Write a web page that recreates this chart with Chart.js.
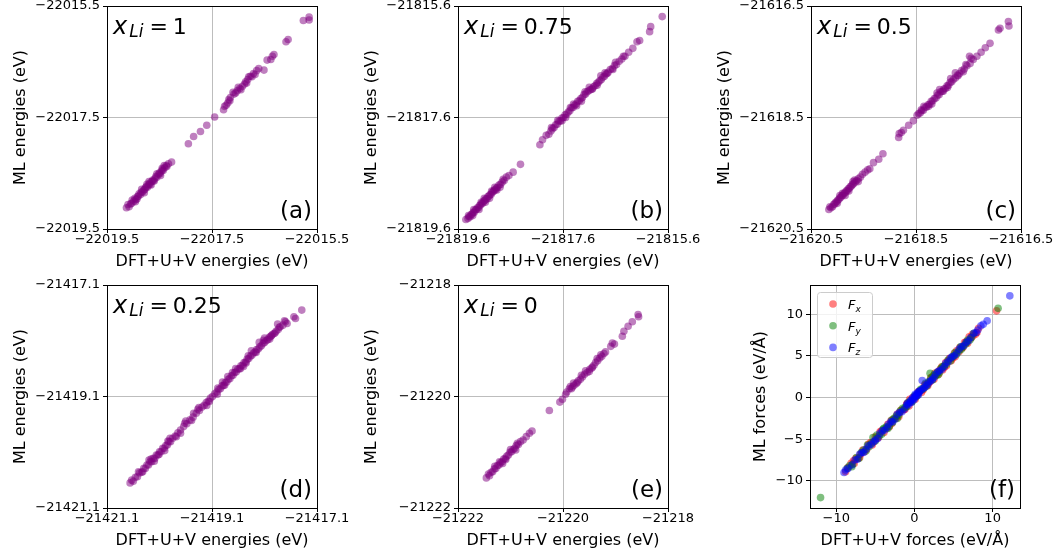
<!DOCTYPE html>
<html>
<head>
<meta charset="utf-8">
<script src="https://cdn.jsdelivr.net/npm/chart.js@4"></script>
<style>
  html, body { margin: 0; padding: 0; background: #fff; }
  body { width: 1057px; height: 552px; position: relative; overflow: hidden; }
  canvas { position: absolute; }
</style>
</head>
<body>
<script>
// ML vs DFT+U+V energies, [dft, ml] pairs in eV
const energyA = [
  [-22019.13,-22019.12],[-22019.08,-22019.10],[-22019.05,-22019.05],[-22019.03,-22019.04],[-22018.99,-22019.00],[-22018.97,-22018.95],
  [-22018.95,-22018.97],[-22018.92,-22018.92],[-22018.90,-22018.91],[-22018.89,-22018.87],[-22018.86,-22018.88],[-22018.85,-22018.84],
  [-22018.82,-22018.83],[-22018.80,-22018.80],[-22018.78,-22018.79],[-22018.77,-22018.76],[-22018.75,-22018.74],[-22018.73,-22018.75],
  [-22018.71,-22018.71],[-22018.69,-22018.68],[-22018.68,-22018.70],[-22018.65,-22018.65],[-22018.63,-22018.62],[-22018.62,-22018.64],
  [-22018.59,-22018.60],[-22018.57,-22018.56],[-22018.55,-22018.57],[-22018.52,-22018.52],[-22018.50,-22018.49],[-22018.49,-22018.51],
  [-22018.46,-22018.46],[-22018.44,-22018.43],[-22018.43,-22018.45],[-22018.40,-22018.40],[-22018.37,-22018.36],[-22018.36,-22018.38],
  [-22018.33,-22018.33],[-22018.27,-22018.30],
  [-22019.02,-22018.98],[-22018.96,-22019.01],[-22018.84,-22018.79],[-22018.79,-22018.85],[-22018.70,-22018.65],[-22018.66,-22018.71],
  [-22018.55,-22018.51],[-22018.48,-22018.54],[-22018.41,-22018.36],
  [-22019.10,-22019.06],[-22018.93,-22018.96],[-22018.74,-22018.70],[-22018.60,-22018.64],[-22018.45,-22018.41],
  [-22017.95,-22017.97],[-22017.85,-22017.84],[-22017.72,-22017.75],[-22017.60,-22017.64],[-22017.45,-22017.49],
  [-22017.28,-22017.36],[-22017.26,-22017.30],[-22017.23,-22017.28],[-22017.18,-22017.18],[-22017.15,-22017.14],[-22017.08,-22017.08],
  [-22017.05,-22017.06],[-22017.02,-22017.02],[-22016.97,-22016.98],[-22016.92,-22016.94],[-22016.88,-22016.90],[-22016.86,-22016.86],
  [-22016.82,-22016.82],[-22016.77,-22016.76],[-22016.74,-22016.77],[-22016.71,-22016.71],[-22016.65,-22016.66],[-22016.61,-22016.62],
  [-22016.51,-22016.65],[-22016.45,-22016.47],[-22016.38,-22016.46],[-22016.35,-22016.40],[-22016.32,-22016.37],[-22016.09,-22016.14],
  [-22016.05,-22016.10],[-22015.76,-22015.76],[-22015.65,-22015.70],[-22015.65,-22015.75],
  [-22017.20,-22017.24],[-22017.10,-22017.05],[-22016.95,-22017.00],[-22016.80,-22016.77],[-22016.68,-22016.73],
  [-22017.16,-22017.20],[-22017.00,-22016.96],[-22016.84,-22016.88]
];
const energyB = [
  [-21819.45,-21819.43],[-21819.41,-21819.41],[-21819.39,-21819.38],[-21819.37,-21819.38],[-21819.35,-21819.34],[-21819.33,-21819.33],
  [-21819.31,-21819.30],[-21819.29,-21819.30],[-21819.27,-21819.26],[-21819.25,-21819.25],[-21819.23,-21819.22],[-21819.21,-21819.22],
  [-21819.19,-21819.18],[-21819.17,-21819.17],[-21819.15,-21819.14],[-21819.13,-21819.14],[-21819.11,-21819.10],[-21819.09,-21819.09],
  [-21819.07,-21819.06],[-21819.05,-21819.06],[-21819.03,-21819.02],[-21819.01,-21819.01],[-21818.99,-21818.98],[-21818.97,-21818.98],
  [-21818.95,-21818.94],[-21818.93,-21818.93],[-21818.91,-21818.90],[-21818.89,-21818.90],[-21818.87,-21818.87],[-21818.85,-21818.85],
  [-21818.82,-21818.81],[-21818.79,-21818.80],[-21818.76,-21818.76],[-21818.72,-21818.73],[-21818.68,-21818.67],[-21818.63,-21818.64],
  [-21818.55,-21818.58],[-21818.41,-21818.44],
  [-21819.30,-21819.25],[-21819.20,-21819.25],[-21819.10,-21819.05],[-21819.00,-21819.05],[-21818.90,-21818.85],[-21818.80,-21818.85],
  [-21819.40,-21819.36],[-21819.32,-21819.36],[-21819.16,-21819.12],[-21819.08,-21819.12],[-21818.96,-21818.92],[-21818.86,-21818.90],
  [-21818.74,-21818.71],
  [-21818.04,-21818.09],[-21817.99,-21818.00],[-21817.92,-21817.92],[-21817.87,-21817.90],[-21817.83,-21817.84],
  [-21817.80,-21817.80],[-21817.77,-21817.78],[-21817.74,-21817.73],[-21817.71,-21817.72],[-21817.68,-21817.67],[-21817.65,-21817.66],
  [-21817.62,-21817.61],[-21817.59,-21817.60],[-21817.56,-21817.55],[-21817.53,-21817.54],[-21817.50,-21817.50],[-21817.47,-21817.48],
  [-21817.44,-21817.43],[-21817.41,-21817.42],[-21817.38,-21817.38],[-21817.35,-21817.36],[-21817.32,-21817.31],[-21817.29,-21817.30],
  [-21817.26,-21817.26],[-21817.23,-21817.24],[-21817.20,-21817.19],[-21817.17,-21817.18],[-21817.14,-21817.14],[-21817.11,-21817.12],
  [-21817.08,-21817.10],[-21817.05,-21817.09],[-21817.02,-21817.05],[-21816.99,-21817.03],[-21816.96,-21816.99],[-21816.93,-21816.97],
  [-21816.90,-21816.94],[-21816.87,-21816.92],[-21816.84,-21816.88],[-21816.81,-21816.86],[-21816.78,-21816.82],[-21816.74,-21816.79],
  [-21816.70,-21816.74],[-21816.66,-21816.72],[-21816.62,-21816.67],[-21816.58,-21816.65],[-21816.53,-21816.59],[-21816.48,-21816.55],
  [-21816.42,-21816.50],[-21816.35,-21816.43],[-21816.27,-21816.36],[-21816.19,-21816.24],[-21816.14,-21816.22],[-21815.95,-21816.06],
  [-21815.93,-21815.97],[-21815.71,-21815.79],
  [-21817.70,-21817.65],[-21817.55,-21817.60],[-21817.40,-21817.36],[-21817.25,-21817.31],[-21817.10,-21817.06],[-21816.95,-21817.02],
  [-21816.80,-21816.80],[-21816.65,-21816.74],
  [-21817.82,-21817.78],[-21817.62,-21817.66],[-21817.46,-21817.42],[-21817.34,-21817.39],[-21817.18,-21817.14],[-21817.04,-21817.09],
  [-21816.88,-21816.85],[-21816.76,-21816.81],[-21816.60,-21816.61],[-21816.45,-21816.50]
];
const energyC = [
  [-21620.16,-21620.15],[-21620.12,-21620.12],[-21620.09,-21620.10],[-21620.07,-21620.06],[-21620.05,-21620.05],[-21620.03,-21620.02],
  [-21620.01,-21620.01],[-21619.99,-21619.98],[-21619.97,-21619.97],[-21619.95,-21619.94],[-21619.93,-21619.93],[-21619.91,-21619.90],
  [-21619.89,-21619.89],[-21619.87,-21619.86],[-21619.85,-21619.85],[-21619.83,-21619.82],[-21619.81,-21619.81],[-21619.79,-21619.78],
  [-21619.77,-21619.77],[-21619.75,-21619.74],[-21619.73,-21619.73],[-21619.71,-21619.70],[-21619.69,-21619.69],[-21619.66,-21619.66],
  [-21619.63,-21619.63],[-21619.60,-21619.60],[-21619.56,-21619.57],[-21619.52,-21619.52],[-21619.47,-21619.48],[-21619.42,-21619.44],
  [-21619.38,-21619.42],[-21619.31,-21619.31],[-21619.21,-21619.25],[-21619.13,-21619.15],
  [-21619.95,-21619.90],[-21619.85,-21619.90],[-21619.70,-21619.65],[-21619.60,-21619.65],
  [-21620.14,-21620.10],[-21620.00,-21620.04],[-21619.90,-21619.86],[-21619.78,-21619.82],[-21619.67,-21619.62],
  [-21618.83,-21618.86],[-21618.82,-21618.79],[-21618.78,-21618.77],[-21618.74,-21618.73],[-21618.64,-21618.64],[-21618.55,-21618.56],
  [-21618.48,-21618.46],[-21618.45,-21618.43],[-21618.42,-21618.42],[-21618.39,-21618.38],[-21618.36,-21618.37],[-21618.33,-21618.32],
  [-21618.30,-21618.31],[-21618.27,-21618.27],[-21618.24,-21618.26],[-21618.21,-21618.21],[-21618.18,-21618.20],[-21618.15,-21618.16],
  [-21618.12,-21618.15],[-21618.09,-21618.10],[-21618.06,-21618.09],[-21618.03,-21618.04],[-21618.00,-21618.03],[-21617.97,-21617.99],
  [-21617.94,-21617.98],[-21617.91,-21617.93],[-21617.88,-21617.92],[-21617.85,-21617.87],[-21617.82,-21617.86],[-21617.79,-21617.82],
  [-21617.75,-21617.79],[-21617.71,-21617.74],[-21617.67,-21617.71],[-21617.63,-21617.66],[-21617.58,-21617.63],[-21617.53,-21617.57],
  [-21617.48,-21617.40],[-21617.47,-21617.53],[-21617.41,-21617.46],[-21617.34,-21617.40],[-21617.26,-21617.33],[-21617.18,-21617.25],
  [-21617.09,-21617.17],[-21616.93,-21616.93],[-21616.90,-21616.90],[-21616.74,-21616.78],[-21616.73,-21616.86],
  [-21618.35,-21618.30],[-21618.20,-21618.26],[-21618.05,-21618.00],[-21617.90,-21617.96],[-21617.75,-21617.70],[-21617.60,-21617.68],
  [-21617.45,-21617.44],
  [-21618.40,-21618.36],[-21618.26,-21618.30],[-21618.10,-21618.06],[-21617.98,-21618.03],[-21617.84,-21617.80],[-21617.70,-21617.75],
  [-21617.55,-21617.55]
];
const energyD = [
  [-21420.66,-21420.65],[-21420.60,-21420.62],[-21420.56,-21420.55],[-21420.52,-21420.54],[-21420.48,-21420.47],[-21420.44,-21420.46],
  [-21420.40,-21420.39],[-21420.37,-21420.39],[-21420.34,-21420.33],[-21420.31,-21420.33],[-21420.28,-21420.27],[-21420.25,-21420.27],
  [-21420.22,-21420.21],[-21420.19,-21420.21],[-21420.16,-21420.15],[-21420.13,-21420.15],[-21420.10,-21420.09],[-21420.07,-21420.09],
  [-21420.04,-21420.03],[-21420.01,-21420.03],[-21419.98,-21419.98],[-21419.95,-21419.97],[-21419.92,-21419.91],[-21419.89,-21419.91],
  [-21419.85,-21419.85],[-21419.80,-21419.81],[-21419.75,-21419.75],[-21419.70,-21419.70],[-21419.64,-21419.64],[-21419.58,-21419.59],
  [-21419.52,-21419.52],[-21419.46,-21419.47],[-21419.40,-21419.40],[-21419.34,-21419.35],[-21419.29,-21419.29],[-21419.25,-21419.26],
  [-21419.21,-21419.21],[-21419.17,-21419.18],[-21419.13,-21419.13],[-21419.09,-21419.10],[-21419.05,-21419.05],[-21419.01,-21419.02],
  [-21418.97,-21418.97],[-21418.94,-21418.96],[-21418.91,-21418.91],[-21418.88,-21418.90],[-21418.85,-21418.85],[-21418.82,-21418.84],
  [-21418.79,-21418.79],[-21418.76,-21418.78],[-21418.73,-21418.73],[-21418.70,-21418.72],[-21418.67,-21418.67],[-21418.64,-21418.66],
  [-21418.61,-21418.61],[-21418.58,-21418.60],[-21418.55,-21418.55],[-21418.52,-21418.54],[-21418.49,-21418.49],[-21418.46,-21418.48],
  [-21418.43,-21418.43],[-21418.40,-21418.42],[-21418.37,-21418.38],[-21418.34,-21418.36],[-21418.31,-21418.32],[-21418.28,-21418.30],
  [-21418.25,-21418.26],[-21418.22,-21418.25],[-21418.19,-21418.21],[-21418.16,-21418.19],[-21418.13,-21418.15],[-21418.10,-21418.13],
  [-21418.07,-21418.10],[-21418.04,-21418.08],[-21418.01,-21418.04],[-21417.98,-21418.02],[-21417.95,-21417.99],[-21417.92,-21417.97],
  [-21417.88,-21417.93],[-21417.84,-21417.90],[-21417.80,-21417.85],[-21417.75,-21417.82],[-21417.67,-21417.79],[-21417.54,-21417.67],
  [-21417.51,-21417.70],[-21417.39,-21417.55],
  [-21420.30,-21420.24],[-21420.00,-21420.07],[-21419.60,-21419.54],[-21419.45,-21419.40],[-21419.20,-21419.26],[-21418.80,-21418.74],
  [-21418.50,-21418.56],[-21418.35,-21418.28],[-21418.20,-21418.13],[-21417.90,-21417.96],
  [-21420.50,-21420.45],[-21420.20,-21420.26],[-21419.90,-21419.85],[-21419.70,-21419.76],[-21419.35,-21419.30],[-21419.00,-21419.06],
  [-21418.90,-21418.84],[-21418.65,-21418.60],[-21418.45,-21418.50],[-21418.10,-21418.05],[-21418.00,-21418.07],[-21417.85,-21417.80],
  [-21417.70,-21417.76],
  [-21420.63,-21420.60],[-21420.42,-21420.45],[-21420.26,-21420.22],[-21420.11,-21420.14],[-21419.94,-21419.90],[-21419.78,-21419.82],
  [-21419.62,-21419.58],[-21419.49,-21419.53],[-21419.37,-21419.33],[-21419.15,-21419.19],[-21418.99,-21418.95],[-21418.86,-21418.90],
  [-21418.71,-21418.67],[-21418.56,-21418.60],[-21418.41,-21418.37],[-21418.26,-21418.31],[-21418.12,-21418.09],[-21417.97,-21418.01],
  [-21417.82,-21417.86],[-21417.72,-21417.74]
];
const energyE = [
  [-21221.46,-21221.46],[-21221.40,-21221.42],[-21221.37,-21221.36],[-21221.34,-21221.35],[-21221.31,-21221.30],[-21221.28,-21221.29],
  [-21221.25,-21221.24],[-21221.22,-21221.23],[-21221.19,-21221.19],[-21221.16,-21221.17],[-21221.13,-21221.12],[-21221.10,-21221.11],
  [-21221.07,-21221.07],[-21221.04,-21221.05],[-21221.01,-21221.00],[-21220.98,-21220.99],[-21220.95,-21220.95],[-21220.92,-21220.93],
  [-21220.89,-21220.88],[-21220.85,-21220.86],[-21220.81,-21220.81],[-21220.76,-21220.78],[-21220.70,-21220.72],[-21220.64,-21220.66],
  [-21220.59,-21220.62],
  [-21221.30,-21221.25],[-21221.15,-21221.20],[-21221.00,-21220.95],[-21220.90,-21220.96],
  [-21221.42,-21221.39],[-21221.21,-21221.17],[-21221.09,-21221.13],[-21220.87,-21220.84],
  [-21220.26,-21220.25],[-21220.06,-21220.10],[-21220.01,-21220.05],[-21219.95,-21219.96],[-21219.93,-21219.92],
  [-21219.88,-21219.86],[-21219.84,-21219.86],[-21219.82,-21219.83],[-21219.79,-21219.80],[-21219.75,-21219.77],[-21219.71,-21219.72],
  [-21219.67,-21219.69],[-21219.63,-21219.65],[-21219.59,-21219.60],[-21219.54,-21219.57],[-21219.49,-21219.51],[-21219.44,-21219.47],
  [-21219.41,-21219.44],[-21219.38,-21219.39],[-21219.34,-21219.36],[-21219.30,-21219.31],[-21219.26,-21219.28],[-21219.22,-21219.23],
  [-21219.19,-21219.20],[-21219.09,-21219.10],[-21219.06,-21219.04],[-21219.02,-21219.06],[-21218.87,-21218.92],[-21218.84,-21218.83],
  [-21218.76,-21218.74],[-21218.68,-21218.66],[-21218.57,-21218.53],[-21218.56,-21218.57],
  [-21219.80,-21219.76],[-21219.65,-21219.62],[-21219.50,-21219.55],[-21219.35,-21219.32],
  [-21219.86,-21219.82],[-21219.73,-21219.75],[-21219.57,-21219.54],[-21219.45,-21219.49],[-21219.28,-21219.25]
];

// force components, [dft, ml] pairs in eV/Å
const forceX = [
  [-8.5,-8.4],[-7.8,-7.6],[-7.5,-7.3],[-7.2,-7.3],[-6.9,-6.8],[-6.4,-6.5],[-5.6,-5.4],[-5.2,-5.3],[-4.8,-4.9],[-4.2,-4.0],
  [-3.6,-3.7],[-3.0,-2.8],[-2.7,-2.6],[-2.4,-2.5],[-1.9,-1.8],[-1.4,-1.5],[-0.9,-0.7],[-0.6,-0.2],[-0.4,-0.5],[0.0,0.1],
  [0.3,0.2],[0.7,0.8],[1.1,0.9],[1.5,1.6],[1.8,1.7],[2.0,1.9],[2.3,2.5],[2.8,2.7],[3.0,3.1],[3.3,3.4],[3.8,3.6],[4.3,4.4],
  [4.9,4.7],[5.4,5.6],[5.7,5.5],[6.0,5.9],[6.6,6.7],[7.2,7.1],[7.5,7.4],[7.8,7.6],[8.2,8.3],[10.5,10.4],
  [-8.8,-8.9],[-8.1,-7.9],[-7.7,-7.9],[-7.0,-7.2],[-6.6,-6.3],[-6.1,-6.2],[-5.9,-5.6],[-5.4,-5.7],[-5.0,-4.7],[-4.6,-4.8],
  [-4.4,-4.1],[-3.9,-4.2],[-3.4,-3.2],[-3.2,-3.5],[-2.9,-3.1],[-2.2,-2.0],[-2.0,-2.3],[-1.7,-1.5],[-1.2,-1.4],[-1.0,-0.8],
  [-0.7,-1.0],[-0.2,0.0],[0.1,-0.2],[0.5,0.7],[0.9,0.6],[1.3,1.5],[1.7,1.4],[2.1,2.4],[2.5,2.2],[2.6,2.9],[3.1,2.8],[3.5,3.7],
  [3.6,3.3],[4.0,4.2],[4.1,3.8],[4.5,4.7],[4.7,4.4],[5.1,5.3],[5.2,4.9],[5.8,6.0],[6.2,6.0],[6.4,6.6],[6.8,6.5],[7.0,7.3],
  [7.4,7.6],[8.0,7.8]
];
const forceY = [
  [-12.0,-12.0],[-8.3,-8.2],[-7.9,-8.0],[-6.5,-6.3],[-5.8,-5.9],[-5.3,-4.8],[-4.5,-4.6],[-3.9,-3.7],[-3.2,-3.4],[-2.6,-2.5],
  [-2.0,-2.1],[-1.5,-1.3],[-1.0,-1.1],[-0.5,-0.4],[0.2,0.1],[0.6,0.7],[1.0,1.0],[1.6,1.4],[2.1,2.3],[2.0,2.9],[2.7,2.6],
  [3.2,3.0],[3.6,3.7],[4.1,4.0],[4.6,4.4],[5.2,5.4],[5.7,5.6],[6.2,6.1],[6.8,6.9],[7.3,7.2],[10.7,10.7],
  [-8.6,-8.5],[-8.0,-8.3],[-7.4,-7.2],[-7.1,-7.3],[-6.8,-6.6],[-6.2,-6.4],[-6.0,-5.7],[-5.5,-5.5],[-5.0,-5.2],[-4.8,-4.5],
  [-4.2,-4.4],[-4.0,-3.8],[-3.6,-3.5],[-3.4,-3.7],[-2.9,-2.7],[-2.8,-3.0],[-2.3,-2.2],[-2.2,-2.5],[-1.8,-1.6],[-1.2,-1.2],
  [-0.8,-0.6],[-0.3,-0.5],[0.0,0.2],[0.4,0.3],[0.8,1.0],[1.2,1.1],[1.4,1.7],[1.8,1.9],[2.3,2.1],[2.5,2.7],[2.9,3.0],[3.0,2.7],
  [3.4,3.5],[3.8,3.8],[4.3,4.5],[4.8,4.8],[5.0,5.0],[5.4,5.2],[5.9,6.1],[6.0,5.8],[6.5,6.4],[6.7,6.6],[7.1,6.9],[7.6,7.7]
];
const forceZ = [
  [-9.0,-9.0],[-8.8,-8.7],[-7.0,-6.8],[-6.2,-6.2],[-5.5,-5.6],[-5.0,-5.1],[-4.4,-4.3],[-3.8,-3.9],[-3.3,-3.2],[-2.8,-2.9],
  [-2.2,-2.0],[-1.6,-1.7],[-1.0,-0.9],[-0.6,-0.6],[-0.3,-0.2],[0.0,-0.1],[0.2,0.3],[0.4,0.5],[0.6,0.6],[0.9,0.9],[1.3,1.2],
  [1.0,2.05],[1.7,1.6],[2.1,2.0],[2.5,2.4],[3.0,3.1],[3.5,3.4],[4.0,4.1],[4.6,4.7],[5.1,5.0],[5.7,5.8],[6.3,6.2],[6.9,6.8],
  [7.6,7.7],[8.1,8.1],[8.5,8.6],[9.3,9.2],[12.2,12.2],
  [-8.5,-8.5],[-8.0,-8.1],[-7.6,-7.5],[-7.3,-7.4],[-6.7,-6.6],[-6.5,-6.6],[-5.9,-5.8],[-5.2,-5.3],[-4.7,-4.9],[-4.1,-4.0],
  [-3.5,-3.6],[-3.0,-2.9],[-2.5,-2.6],[-1.9,-1.8],[-1.3,-1.4],[-0.9,-0.7],[-0.8,-0.9],[-0.5,-0.4],[-0.4,-0.6],[-0.2,0.0],
  [-0.1,-0.3],[0.1,0.1],[0.1,0.4],[0.3,0.2],[0.5,0.3],[0.5,0.7],[0.7,0.8],[1.1,1.1],[1.5,1.4],[1.9,1.9],[2.3,2.2],[2.7,2.8],
  [3.2,3.2],[3.8,3.7],[4.3,4.3],[4.8,4.9],[5.4,5.3],[6.0,6.1],[6.6,6.6],[7.2,7.2],[7.9,7.8],[8.8,8.8]
];

// tick labels
const ticksA = [-22019.5, -22017.5, -22015.5];
const ticksB = [-21819.6, -21817.6, -21815.6];
const ticksC = [-21620.5, -21618.5, -21616.5];
const ticksD = [-21421.1, -21419.1, -21417.1];
const ticksE = [-21222, -21220, -21218];
const forceTicksX = [-10, 0, 10];
const forceTicksY = [-10, -5, 0, 5, 10];

const liFractions = ['1', '0.75', '0.5', '0.25', '0'];
const panelLetters = ['(a)', '(b)', '(c)', '(d)', '(e)', '(f)'];
const forceSubs = ['x', 'y', 'z'];

const PURPLE = 'rgba(128,0,128,0.5)';
const FORCE_COLORS = ['rgba(255,0,0,0.5)', 'rgba(0,128,0,0.5)', 'rgba(0,0,255,0.5)'];
const FONT = '"DejaVu Sans"';
const PLOT_W = 210, PLOT_H = 223, PAD_T = 6, PAD_R = 40, AXIS_H = 46;

Chart.defaults.font.family = FONT + ', sans-serif';
Chart.defaults.color = '#000';

const fmt = v => String(v).replace('-', '\u2212');

// frame, x_Li label, panel letter and the force legend
const decor = {
  id: 'decor',
  afterDraw(chart, args, o) {
    const { ctx, chartArea: a } = chart;
    ctx.save();
    ctx.strokeStyle = '#000';
    ctx.lineWidth = 1;
    ctx.strokeRect(a.left + 0.5, a.top + 0.5, a.right - a.left, a.bottom - a.top);
    ctx.fillStyle = '#000';
    ctx.textAlign = 'left';
    ctx.textBaseline = 'alphabetic';
    if (o.xli) {
      let x = a.left + 6;
      const y = a.top + 28;
      ctx.font = 'italic 24px ' + FONT;
      ctx.fillText('x', x, y);
      x += ctx.measureText('x').width + 2;
      ctx.font = 'italic 17px ' + FONT;
      ctx.fillText('Li', x, y + 3);
      x += ctx.measureText('Li').width + 6;
      ctx.font = '22px ' + FONT;
      ctx.fillText('=', x, y);
      x += ctx.measureText('=').width + 5;
      ctx.fillText(o.xli, x, y);
    }
    ctx.font = '23px ' + FONT;
    ctx.textAlign = 'right';
    ctx.fillText(o.letter, a.right - 5, a.bottom - 11);
    if (o.legend) {
      const lx = a.left + 7, ly = a.top + 7;
      ctx.beginPath();
      ctx.roundRect(lx + 0.5, ly + 0.5, 55, 65, 3);
      ctx.fillStyle = 'rgba(255,255,255,0.8)';
      ctx.fill();
      ctx.strokeStyle = '#cccccc';
      ctx.stroke();
      ctx.textAlign = 'left';
      o.legend.forEach((sub, i) => {
        const cy = ly + 12 + i * 21.7;
        ctx.fillStyle = FORCE_COLORS[i];
        ctx.beginPath();
        ctx.arc(lx + 16, cy, 3.8, 0, Math.PI * 2);
        ctx.fill();
        ctx.fillStyle = '#000';
        ctx.font = 'italic 13px ' + FONT;
        ctx.fillText('F', lx + 31, cy + 5);
        const fw = ctx.measureText('F').width;
        ctx.font = 'italic 9px ' + FONT;
        ctx.fillText(sub, lx + 31 + fw, cy + 8);
      });
    }
    ctx.restore();
  }
};

function axis(ticks, min, max, title, isX, axisW) {
  return {
    type: 'linear', min, max,
    afterBuildTicks: s => { s.ticks = ticks.map(v => ({ value: v })); },
    afterFit: s => {
      if (isX) s.height = AXIS_H; else s.width = axisW;
      s.paddingLeft = s.paddingRight = s.paddingTop = s.paddingBottom = 0;
    },
    grid: { color: '#bdbdbd', lineWidth: 1, drawTicks: true, tickLength: 4, tickColor: '#000' },
    border: { display: false },
    ticks: {
      font: { size: 13, lineHeight: 1 }, color: '#000', padding: isX ? 0 : 3,
      maxRotation: 0, autoSkip: false, callback: v => fmt(v)
    },
    title: {
      display: true, text: title, color: '#000', font: { size: 16 },
      padding: isX ? { top: 4, bottom: 4 } : { top: 11, bottom: 4 }
    }
  };
}

function buildPanel(p) {
  const cv = document.createElement('canvas');
  const w = p.axisW + PLOT_W + PAD_R, h = PAD_T + PLOT_H + AXIS_H;
  cv.width = w; cv.height = h;
  cv.style.width = w + 'px'; cv.style.height = h + 'px';
  cv.style.left = (p.left - p.axisW) + 'px';
  cv.style.top = (p.top - PAD_T) + 'px';
  document.body.appendChild(cv);

  new Chart(cv, {
    type: 'scatter',
    data: {
      datasets: p.sets.map(s => ({
        data: s.pts.map(([x, y]) => ({ x, y })),
        backgroundColor: s.color, borderColor: s.color, borderWidth: 0,
        pointRadius: 3.8, pointHoverRadius: 3.8, order: s.order || 0
      }))
    },
    options: {
      responsive: false, animation: false, devicePixelRatio: 1, events: [],
      layout: { padding: { left: 0, top: PAD_T, right: PAD_R, bottom: 0 } },
      plugins: {
        legend: { display: false }, tooltip: { enabled: false },
        decor: { xli: p.xli, letter: p.letter, legend: p.legend }
      },
      scales: {
        x: axis(p.xt, p.xr[0], p.xr[1], p.xTitle, true, p.axisW),
        y: axis(p.yt, p.yr[0], p.yr[1], p.yTitle, false, p.axisW)
      }
    },
    plugins: [decor]
  });
}

const eX = 'DFT+U+V energies (eV)', eY = 'ML energies (eV)';
const energyPanels = [
  { left: 107, top: 6, pts: energyA, t: ticksA },
  { left: 458, top: 6, pts: energyB, t: ticksB },
  { left: 811, top: 6, pts: energyC, t: ticksC },
  { left: 107, top: 285, pts: energyD, t: ticksD },
  { left: 458, top: 285, pts: energyE, t: ticksE }
];
energyPanels.forEach((e, i) => buildPanel({
  left: e.left, top: e.top, axisW: 107,
  sets: [{ pts: e.pts, color: PURPLE }],
  xt: e.t, yt: e.t, xr: [e.t[0], e.t[2]], yr: [e.t[0], e.t[2]],
  xTitle: eX, yTitle: eY, xli: liFractions[i], letter: panelLetters[i]
}));

buildPanel({
  left: 810, top: 285, axisW: 70,
  sets: [
    { pts: forceX, color: FORCE_COLORS[0], order: 3 },
    { pts: forceY, color: FORCE_COLORS[1], order: 2 },
    { pts: forceZ, color: FORCE_COLORS[2], order: 1 }
  ],
  xt: forceTicksX, yt: forceTicksY, xr: [-13.35, 13.5], yr: [-13.25, 13.5],
  xTitle: 'DFT+U+V forces (eV/Å)', yTitle: 'ML forces (eV/Å)',
  letter: panelLetters[5], legend: forceSubs
});
</script>
</body>
</html>
